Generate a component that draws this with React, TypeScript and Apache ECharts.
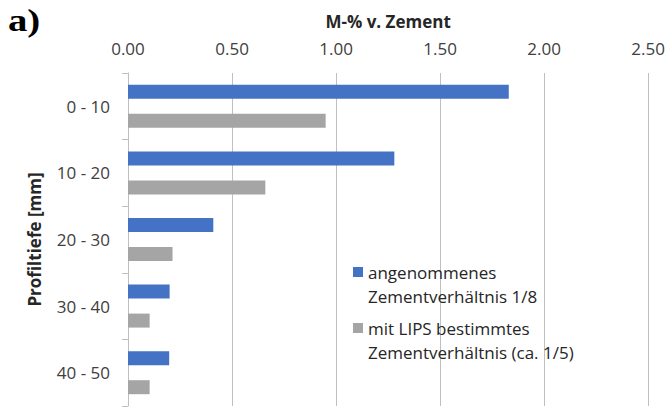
import React, { useEffect, useRef } from "react";
import * as echarts from "echarts";

const categories = ["0 - 10", "10 - 20", "20 - 30", "30 - 40", "40 - 50"];
const seriesNames = [
  "angenommenes\nZementverhältnis 1/8",
  "mit LIPS bestimmtes\nZementverhältnis (ca. 1/5)",
];
const assumedValues = [1.83, 1.28, 0.41, 0.2, 0.198];
const lipsValues = [0.95, 0.66, 0.214, 0.104, 0.104];
const xTicks = { min: 0, max: 2.5, interval: 0.5 };

const FONT = "Open Sans";

export default function App() {
  const ref = useRef<HTMLDivElement>(null);
  useEffect(() => {
    document.body.style.margin = "0";
    const chart = echarts.init(ref.current!, null, { renderer: "svg" });
    const legendBase = {
      orient: "vertical",
      left: 353,
      padding: 0,
      itemWidth: 10,
      itemHeight: 10,
      itemGap: 0,
      icon: "rect",
      formatter: (name: string) => "\n" + name,
      textStyle: {
        fontFamily: FONT,
        fontSize: 17,
        color: "#262626",
        lineHeight: 24,
      },
    };
    chart.setOption({
      animation: false,
      backgroundColor: "#ffffff",
      grid: { left: 128, right: 19, top: 73, bottom: 1, containLabel: false },
      graphic: [
        {
          type: "text",
          x: 8,
          y: 5,
          scaleX: 1.25,
          style: {
            text: "a)",
            font: "bold 31px 'Liberation Serif'",
            fill: "#000000",
          },
        },
      ],
      legend: [
        { ...legendBase, data: [seriesNames[0]], top: 236 },
        { ...legendBase, data: [seriesNames[1]], top: 292 },
      ],
      xAxis: {
        type: "value",
        position: "top",
        min: xTicks.min,
        max: xTicks.max,
        interval: xTicks.interval,
        name: "M-% v. Zement",
        nameLocation: "middle",
        nameGap: 43,
        nameTextStyle: {
          fontFamily: FONT,
          fontSize: 17,
          fontWeight: "bold",
          color: "#262626",
        },
        axisLine: { show: false },
        axisTick: { show: false },
        axisLabel: {
          fontFamily: FONT,
          fontSize: 17,
          color: "#404040",
          margin: 16,
          formatter: (v: number) => v.toFixed(2),
        },
        splitLine: { show: true, lineStyle: { color: "#C0C0C0", width: 1 } },
      },
      yAxis: {
        type: "category",
        inverse: true,
        data: categories,
        name: "Profiltiefe [mm]",
        nameLocation: "middle",
        nameGap: 85,
        nameRotate: 90,
        nameTextStyle: {
          fontFamily: FONT,
          fontSize: 17,
          fontWeight: "bold",
          color: "#262626",
        },
        axisLine: { show: true, lineStyle: { color: "#BFBFBF", width: 1 } },
        axisTick: { show: true, length: 6, lineStyle: { color: "#BFBFBF" } },
        axisLabel: {
          fontFamily: FONT,
          fontSize: 17,
          color: "#404040",
          margin: 18,
        },
        splitLine: { show: false },
      },
      series: [
        {
          name: seriesNames[0],
          type: "bar",
          data: assumedValues,
          barWidth: 14,
          barGap: "107%",
          itemStyle: { color: "#4472C4" },
        },
        {
          name: seriesNames[1],
          type: "bar",
          data: lipsValues,
          barWidth: 14,
          itemStyle: { color: "#A5A5A5" },
        },
      ],
    });
    return () => chart.dispose();
  }, []);
  return <div ref={ref} style={{ width: 668, height: 407 }} />;
}
